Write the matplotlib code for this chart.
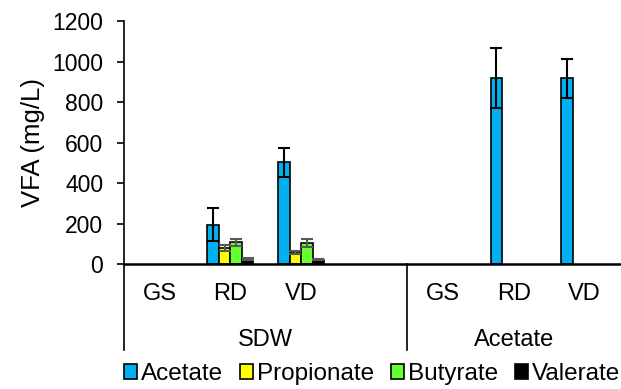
import numpy as np
import matplotlib
matplotlib.use("Agg")
import matplotlib.pyplot as plt
import matplotlib.transforms as mtransforms

plt.rcParams['font.family'] = ['Liberation Sans', 'DejaVu Sans']

# categories (4th slot is the empty gap inside the SDW group)
categorias = ['GS', 'RD', 'VD', '', 'GS', 'RD', 'VD']
grupos = ['SDW', 'Acetate']

acetate = [0, 195, 502, 0, 0, 917, 917]
acetate_err = [0, 80, 70, 0, 0, 148, 95]
propionate = [0, 78, 58, 0, 0, 0, 0]
propionate_err = [0, 14, 8, 0, 0, 0, 0]
butyrate = [0, 107, 102, 0, 0, 0, 0]
butyrate_err = [0, 16, 20, 0, 0, 0, 0]
valerate = [0, 25, 22, 0, 0, 0, 0]
valerate_err = [0, 4, 4, 0, 0, 0, 0]

series = [('Acetate', acetate, acetate_err, '#00b0f0', 'black'),
          ('Propionate', propionate, propionate_err, '#ffff00', '#595959'),
          ('Butyrate', butyrate, butyrate_err, '#66ff33', '#595959'),
          ('Valerate', valerate, valerate_err, '#000000', '#595959')]

fig = plt.figure(figsize=(6.21, 3.89), dpi=100)
ax = fig.add_axes([124/621, 1 - 264/389, (620 - 124)/621, (264 - 21)/389])

x = np.arange(len(categorias))
ancho = 0.163
for i, (nombre, vals, errs, color, ecolor) in enumerate(series):
    pos = x + (i - 1.5) * ancho
    vals = np.array(vals)
    errs = np.array(errs)
    hay = vals > 0
    ax.bar(pos[hay], vals[hay], ancho, color=color, edgecolor='black',
           linewidth=1.2, label=nombre, zorder=2)
    m = errs > 0
    ax.errorbar(pos[m], vals[m], yerr=errs[m], fmt='none', ecolor=ecolor,
                elinewidth=1.5, capsize=4, capthick=1.5, zorder=3)

ax.set_xlim(-0.5, 6.5)
ax.set_ylim(0, 1200)
ax.set_yticks(range(0, 1201, 200))
ax.tick_params(axis='y', labelsize=16.5, length=5, width=1.2,
               direction='out', pad=10)
ax.set_xticks(x)
ax.set_xticklabels(categorias, fontsize=17)
ax.tick_params(axis='x', length=0, pad=14)
ax.set_ylabel('VFA (mg/L)', fontsize=18.5, labelpad=5)

ax.spines['top'].set_visible(False)
ax.spines['right'].set_visible(False)
ax.spines['left'].set_linewidth(1.2)
ax.spines['bottom'].set_linewidth(1.8)
ax.spines['bottom'].set_zorder(4)

# second level of category axis
trans = mtransforms.blended_transform_factory(ax.transData, fig.transFigure)
for xs in [-0.5, 3.5]:
    ax.plot([xs, xs], [1 - 264/389, 1 - 350/389], color='black', lw=1.2,
            transform=trans, clip_on=False)
ax.text(1.5, 1 - 340/389, grupos[0], ha='center', va='center', fontsize=17,
        transform=trans)
ax.text(5.0, 1 - 340/389, grupos[1], ha='center', va='center', fontsize=17,
        transform=trans)

fig.legend(loc='center', bbox_to_anchor=(372/621, 1 - 374/389), ncol=4,
           frameon=False, fontsize=17.5, handlelength=0.55, handleheight=0.55,
           handletextpad=0.15, columnspacing=0.7, borderaxespad=0)

fig.savefig('out.png', dpi=100)
